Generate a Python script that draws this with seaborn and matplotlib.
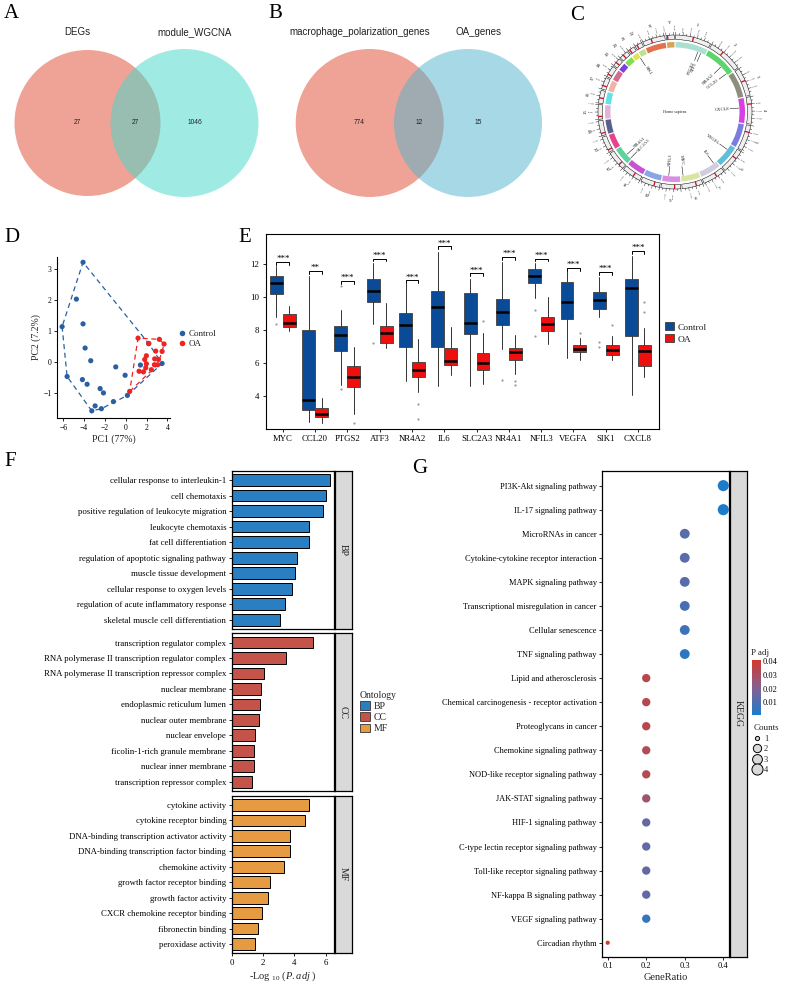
import numpy as np
import pandas as pd
import matplotlib
matplotlib.use("Agg")
import matplotlib.pyplot as plt
import seaborn as sns
from matplotlib.patches import Circle, Patch
from matplotlib.lines import Line2D
from matplotlib.colors import LinearSegmentedColormap, Normalize
from matplotlib.cm import ScalarMappable

# ---------------- data ----------------
# A / B venn
venn_a_sets = ["DEGs", "module_WGCNA"]
venn_a_counts = [27, 27, 1046]
venn_b_sets = ["macrophage_polarization_genes", "OA_genes"]
venn_b_counts = [774, 12, 15]

# C circos (hg38, Mb)
chrom_names = [str(i) for i in range(1, 23)] + ["X", "Y"]
chrom_len = [248, 242, 198, 190, 181, 171, 159, 145, 138, 134, 135, 133,
             114, 107, 102, 90, 83, 80, 59, 64, 47, 51, 156, 57]
chrom_cen = [123.4, 93.9, 90.9, 50.0, 48.8, 59.8, 60.1, 45.2, 43.0, 39.8, 53.4, 35.5,
             17.7, 17.2, 19.0, 36.8, 25.1, 18.5, 26.2, 28.1, 12.0, 15.0, 60.6, 10.4]
chrom_colors = ["#A9E0D2", "#5CD66C", "#8E8E7C", "#D740E0", "#7B7BE0", "#62BED6",
                "#D2CCE0", "#D8E5A3", "#DA8EE2", "#8AA4E8", "#C852D2", "#5DD49C",
                "#E8418E", "#58618C", "#E2B3DA", "#62E2E2", "#F2B3A3", "#D56B8C",
                "#7B40E0", "#80E052", "#E2E252", "#BBE293", "#E2724F", "#D6A455"]
circos_genes = ["PTGS2", "ATF3", "NR4A2", "CCL20", "CXCL8", "VEGFA",
                "IL6", "MYC", "NFIL3", "NR4A1", "SLC2A3", "SIK1"]
gene_chrom = ["1", "1", "2", "2", "4", "6", "7", "8", "9", "12", "12", "21"]
gene_pos = [186.6, 212.6, 156.3, 227.8, 73.7, 43.7, 22.7, 127.7, 91.4, 52.0, 7.9, 43.4]

# D PCA
ctrl_pc1 = [-4.1, -4.74, -6.11, -4.1, -3.9, -3.36, -5.63, -4.16, -3.71, -2.46, -2.14,
            -3.26, -2.94, -2.34, -1.18, -0.96, -0.06, 0.16, 1.41, 2.21, 3.49]
ctrl_pc2 = [3.22, 2.03, 1.14, 1.23, 0.45, 0.04, -0.47, -0.57, -0.72, -0.86, -1.0,
            -1.58, -1.42, -1.51, -1.28, -0.16, -0.43, -1.08, -0.1, 0.59, -0.05]
oa_pc1 = [1.18, 2.2, 3.23, 3.68, 2.88, 3.49, 1.98, 1.82, 2.78, 3.14, 1.98, 2.75,
          3.07, 1.92, 1.28, 1.7, 2.46, 0.38]
oa_pc2 = [0.77, 0.6, 0.73, 0.58, 0.35, 0.34, 0.2, 0.08, 0.1, 0.08, -0.06, -0.09,
          -0.09, -0.19, -0.3, -0.32, -0.25, -0.95]

# E boxplots
genes_e = ["MYC", "CCL20", "PTGS2", "ATF3", "NR4A2", "IL6", "SLC2A3", "NR4A1",
           "NFIL3", "VEGFA", "SIK1", "CXCL8"]
ctrl_whislo = [8.79, 2.40, 4.65, 8.36, 4.89, 4.63, 4.63, 6.89, 9.94, 6.30, 8.79, 4.08]
ctrl_q1 = [10.20, 3.15, 6.77, 9.72, 6.99, 6.97, 7.78, 8.34, 10.87, 8.67, 9.31, 7.66]
ctrl_med = [10.85, 3.74, 7.72, 10.40, 8.32, 9.43, 8.46, 9.13, 11.31, 9.74, 9.82, 10.59]
ctrl_q3 = [11.31, 8.02, 8.28, 11.11, 9.03, 10.40, 10.24, 9.92, 11.72, 10.93, 10.34, 11.09]
ctrl_whishi = [11.90, 11.29, 9.23, 12.06, 10.85, 12.77, 11.11, 12.12, 12.06, 11.60, 11.25, 12.51]
ctrl_fliers = [[8.36], [], [10.69, 4.42], [7.25], [], [], [], [4.99],
               [9.23, 7.66], [], [7.29, 7.01], []]
oa_whislo = [7.98, 2.36, 2.91, 6.91, 4.24, 5.29, 4.75, 5.33, 7.15, 6.20, 6.20, 5.19]
oa_q1 = [8.18, 2.71, 4.55, 7.25, 5.17, 5.90, 5.60, 6.18, 7.94, 6.65, 6.51, 5.84]
oa_med = [8.45, 2.93, 5.13, 7.86, 5.56, 6.14, 6.00, 6.67, 8.36, 6.85, 6.81, 6.71]
oa_q3 = [8.99, 3.27, 5.80, 8.28, 6.10, 6.91, 6.61, 6.91, 8.79, 7.11, 7.13, 7.09]
oa_whishi = [9.47, 3.88, 6.97, 9.64, 7.45, 8.18, 7.86, 7.70, 10.00, 7.55, 7.66, 8.12]
oa_fliers = [[], [], [2.36], [], [3.52, 2.61], [], [8.57], [4.89, 4.67],
             [], [7.86], [8.32], [9.74, 9.13]]
sig_labels = ["***", "**", "***", "***", "***", "***", "***", "***", "***", "***", "***", "***"]
sig_y = [12.16, 11.6, 10.99, 12.36, 11.05, 13.11, 11.45, 12.46, 12.36, 11.8, 11.56, 12.83]

# F GO enrichment
bp_terms = ["cellular response to interleukin-1", "cell chemotaxis",
            "positive regulation of leukocyte migration", "leukocyte chemotaxis",
            "fat cell differentiation", "regulation of apoptotic signaling pathway",
            "muscle tissue development", "cellular response to oxygen levels",
            "regulation of acute inflammatory response", "skeletal muscle cell differentiation"]
bp_vals = [6.25, 6.04, 5.83, 4.94, 4.94, 4.17, 4.03, 3.83, 3.39, 3.11]
cc_terms = ["transcription regulator complex",
            "RNA polymerase II transcription regulator complex",
            "RNA polymerase II transcription repressor complex", "nuclear membrane",
            "endoplasmic reticulum lumen", "nuclear outer membrane", "nuclear envelope",
            "ficolin-1-rich granule membrane", "nuclear inner membrane",
            "transcription repressor complex"]
cc_vals = [5.19, 3.45, 2.06, 1.84, 1.80, 1.74, 1.46, 1.42, 1.42, 1.31]
mf_terms = ["cytokine activity", "cytokine receptor binding",
            "DNA-binding transcription activator activity",
            "DNA-binding transcription factor binding", "chemokine activity",
            "growth factor receptor binding", "growth factor activity",
            "CXCR chemokine receptor binding", "fibronectin binding", "peroxidase activity"]
mf_vals = [4.92, 4.66, 3.73, 3.73, 3.33, 2.44, 2.29, 1.93, 1.67, 1.46]

# G KEGG
kegg_terms = ["PI3K-Akt signaling pathway", "IL-17 signaling pathway", "MicroRNAs in cancer",
              "Cytokine-cytokine receptor interaction", "MAPK signaling pathway",
              "Transcriptional misregulation in cancer", "Cellular senescence",
              "TNF signaling pathway", "Lipid and atherosclerosis",
              "Chemical carcinogenesis - receptor activation", "Proteoglycans in cancer",
              "Chemokine signaling pathway", "NOD-like receptor signaling pathway",
              "JAK-STAT signaling pathway", "HIF-1 signaling pathway",
              "C-type lectin receptor signaling pathway", "Toll-like receptor signaling pathway",
              "NF-kappa B signaling pathway", "VEGF signaling pathway", "Circadian rhythm"]
kegg_ratio = [0.4, 0.4, 0.3, 0.3, 0.3, 0.3, 0.3, 0.3, 0.2, 0.2, 0.2, 0.2, 0.2, 0.2,
              0.2, 0.2, 0.2, 0.2, 0.2, 0.1]
kegg_count = [4, 4, 3, 3, 3, 3, 3, 3, 2, 2, 2, 2, 2, 2, 2, 2, 2, 2, 2, 1]
kegg_padj = [0.0006, 0.0006, 0.012, 0.012, 0.012, 0.009, 0.007, 0.004, 0.034, 0.034,
             0.034, 0.032, 0.032, 0.027, 0.014, 0.014, 0.014, 0.014, 0.006, 0.041]

# ---------------- style ----------------
sns.set_theme(style="ticks")
plt.rcParams["font.family"] = ["Liberation Serif", "DejaVu Serif"]
plt.rcParams["mathtext.fontset"] = "custom"
plt.rcParams["mathtext.rm"] = "Liberation Serif"
plt.rcParams["mathtext.it"] = "Liberation Serif:italic"
plt.rcParams["axes.edgecolor"] = "black"
plt.rcParams["axes.linewidth"] = 0.8
plt.rcParams["xtick.color"] = "black"
plt.rcParams["ytick.color"] = "black"
plt.rcParams["text.color"] = "#222222"

W, H = 788, 991
fig = plt.figure(figsize=(7.88, 9.91), dpi=100)


def add_ax(l, t, r, b, **kw):
    return fig.add_axes([l / W, 1 - b / H, (r - l) / W, (b - t) / H], **kw)


def panel_label(x, y, s):
    fig.text(x / W, 1 - y / H, s, fontsize=15, va="top", ha="left", color="black")


# ---------------- A & B venn ----------------
ax_v = add_ax(0, 0, 560, 230)
ax_v.set_xlim(0, 560)
ax_v.set_ylim(230, 0)
ax_v.axis("off")
sans = "Liberation Sans"
venns = [
    (venn_a_sets, venn_a_counts, [87.5, 184.5], [73, 74], ["#E1492F", "#41D9CB"]),
    (venn_b_sets, venn_b_counts, [369.7, 468.0], [74, 74], ["#E1492F", "#51B3CD"]),
]
for sets, counts, cxs, rs, cols in venns:
    for cx, r, col in zip(cxs, rs, cols):
        ax_v.add_patch(Circle((cx, 123), r, facecolor=col, alpha=0.5, edgecolor="none"))
    x_left = cxs[0] - 10
    x_right = cxs[1] + 10
    x_mid = (cxs[0] + rs[0] + cxs[1] - rs[1]) / 2
    for xx, s in zip([x_left, x_right], sets):
        ax_v.text(xx, 32, s, ha="center", va="center", fontsize=7, family=sans, color="#222222")
    for xx, c in zip([x_left, x_mid, x_right], counts):
        ax_v.text(xx, 123, str(c), ha="center", va="center", fontsize=4.8, family=sans, color="#222222")
panel_label(4, 4, "A")
panel_label(268, 4, "B")

# ---------------- C circos ----------------
cx0, cy0, R = 675, 112, 95
ax_c = add_ax(cx0 - R, cy0 - R, cx0 + R, cy0 + R, projection="polar")
ax_c.set_theta_zero_location("N")
ax_c.set_theta_direction(-1)
ax_c.set_ylim(0, R)
ax_c.axis("off")
gap = 1.0
deg_per_mb = (360 - gap * len(chrom_len)) / sum(chrom_len)
starts = []
t = gap / 2
for L in chrom_len:
    starts.append(t)
    t += L * deg_per_mb + gap


def cdeg(ci, mb):
    return starts[ci] + mb * deg_per_mb


def radial_rot(theta_deg, outward=True):
    th = theta_deg % 360
    if th <= 180:
        return 90 - th, ("left" if outward else "right")
    return 270 - th, ("right" if outward else "left")


for i, L in enumerate(chrom_len):
    a0, a1 = np.deg2rad(cdeg(i, 0)), np.deg2rad(cdeg(i, L))
    ax_c.bar((a0 + a1) / 2, 5.5, width=a1 - a0, bottom=64.5, color=chrom_colors[i],
             edgecolor="none")
    ax_c.bar((a0 + a1) / 2, 4.5, width=a1 - a0, bottom=72.5, color="#EFEFEF",
             edgecolor="black", linewidth=0.35)
    ax_c.bar(np.deg2rad(cdeg(i, chrom_cen[i])), 4.5, width=np.deg2rad(1.0), bottom=72.5,
             color="#C8102E", edgecolor="none")
    for mb in range(0, L + 1, 25):
        a = np.deg2rad(cdeg(i, mb))
        r1 = 80 if mb % 50 == 0 else 78.8
        ax_c.plot([a, a], [77, r1], color="black", lw=0.3)
        if mb % 50 == 0 and mb > 0:
            rot, ha = radial_rot(cdeg(i, mb), outward=True)
            ax_c.text(a, 80.8, f"{mb}Mb", fontsize=1.7, rotation=rot, ha=ha, va="center",
                      rotation_mode="anchor", color="#333333")
    mid = cdeg(i, L / 2)
    rot = -mid
    if 90 < mid % 360 < 270:
        rot += 180
    ax_c.text(np.deg2rad(mid), 89, chrom_names[i], fontsize=3.6, rotation=rot,
              ha="center", va="center", color="#222222")

for g, ch, pos in zip(circos_genes, gene_chrom, gene_pos):
    ci = chrom_names.index(ch)
    d = cdeg(ci, pos)
    a = np.deg2rad(d)
    ax_c.plot([a, a], [64, 55], color="black", lw=0.35)
    rot, ha = radial_rot(d, outward=False)
    ax_c.text(a, 54, g, fontsize=3.3, rotation=rot, ha=ha, va="center",
              rotation_mode="anchor", color="#222222")
ax_c.text(0, 0, "Homo sapiens", fontsize=3, ha="center", va="center", color="#222222")
panel_label(570, 6, "C")

# ---------------- D PCA ----------------
pca_df = pd.DataFrame({
    "PC1": ctrl_pc1 + oa_pc1,
    "PC2": ctrl_pc2 + oa_pc2,
    "Group": ["Control"] * len(ctrl_pc1) + ["OA"] * len(oa_pc1),
})
group_pal = {"Control": "#2A5FA3", "OA": "#EE2424"}
ax_d = add_ax(57, 256.7, 170, 418.3)
sns.scatterplot(data=pca_df, x="PC1", y="PC2", hue="Group", palette=group_pal, s=14,
                linewidth=0, legend=False, ax=ax_d, zorder=3)


def convex_hull(pts):
    pts = sorted(set(pts))
    def cross(o, a, b):
        return (a[0] - o[0]) * (b[1] - o[1]) - (a[1] - o[1]) * (b[0] - o[0])
    lower, upper = [], []
    for p in pts:
        while len(lower) >= 2 and cross(lower[-2], lower[-1], p) <= 0:
            lower.pop()
        lower.append(p)
    for p in reversed(pts):
        while len(upper) >= 2 and cross(upper[-2], upper[-1], p) <= 0:
            upper.pop()
        upper.append(p)
    return lower[:-1] + upper[:-1]


for grp, sub in pca_df.groupby("Group"):
    hull = convex_hull(list(zip(sub["PC1"], sub["PC2"])))
    hull.append(hull[0])
    hx, hy = zip(*hull)
    ax_d.plot(hx, hy, ls=(0, (4, 3)), lw=0.9, color=group_pal[grp], zorder=2)
ax_d.set_xlim(-6.6, 4.25)
ax_d.set_ylim(-1.82, 3.4)
ax_d.set_xticks([-6, -4, -2, 0, 2, 4])
ax_d.set_yticks([-1, 0, 1, 2, 3])
ax_d.tick_params(labelsize=5.5, length=2.5, width=0.6, pad=1.5)
ax_d.set_xlabel("PC1 (77%)", fontsize=7, labelpad=2)
ax_d.set_ylabel("PC2 (7.2%)", fontsize=7, labelpad=2)
sns.despine(ax=ax_d)
d_handles = [Line2D([], [], marker="o", ls="", markersize=4, markerfacecolor=c,
                    markeredgecolor="none") for c in group_pal.values()]
fig.legend(d_handles, list(group_pal.keys()), loc="center left",
           bbox_to_anchor=(172 / W, 1 - 339 / H), frameon=False, fontsize=6.5,
           handletextpad=0.1, labelspacing=0.25, borderpad=0, handlelength=1.2)
panel_label(4, 228, "D")

# ---------------- E boxplots ----------------
ctrl_color, oa_color = "#0B4A96", "#F00F0F"
ax_e = add_ax(265.7, 234, 659, 429)
xpos = np.arange(len(genes_e))
stats_ctrl = [dict(med=m, q1=a, q3=b, whislo=lo, whishi=hi, fliers=f)
              for m, a, b, lo, hi, f in zip(ctrl_med, ctrl_q1, ctrl_q3, ctrl_whislo,
                                              ctrl_whishi, ctrl_fliers)]
stats_oa = [dict(med=m, q1=a, q3=b, whislo=lo, whishi=hi, fliers=f)
            for m, a, b, lo, hi, f in zip(oa_med, oa_q1, oa_q3, oa_whislo, oa_whishi, oa_fliers)]
for stats, off, col in [(stats_ctrl, -0.2, ctrl_color), (stats_oa, 0.2, oa_color)]:
    ax_e.bxp(stats, positions=xpos + off, widths=0.4, patch_artist=True, showcaps=False,
             boxprops=dict(facecolor=col, edgecolor="#4D4D4D", linewidth=0.7),
             medianprops=dict(color="black", linewidth=1.8),
             whiskerprops=dict(color="#333333", linewidth=0.7),
             flierprops=dict(marker="o", markersize=1.6, markerfacecolor="#9A9A9A",
                             markeredgecolor="none"),
             manage_ticks=False)
for x, s, y in zip(xpos, sig_labels, sig_y):
    ax_e.plot([x - 0.2, x - 0.2, x + 0.2, x + 0.2], [y - 0.18, y, y, y - 0.18],
              color="black", lw=0.7)
    ax_e.text(x, y - 0.08, s, ha="center", va="bottom", fontsize=6.5, color="black")
ax_e.set_xticks(xpos)
ax_e.set_xticklabels(genes_e)
ax_e.set_yticks([4, 6, 8, 10, 12])
ax_e.set_xlim(-0.53, 11.65)
ax_e.set_ylim(2.0, 13.85)
ax_e.tick_params(labelsize=6.3, length=2.5, width=0.6, pad=2)
e_handles = [Patch(facecolor=c, edgecolor="#4D4D4D", linewidth=0.7)
             for c in [ctrl_color, oa_color]]
fig.legend(e_handles, ["Control", "OA"], loc="center left",
           bbox_to_anchor=(660 / W, 1 - 333 / H), frameon=False, fontsize=6.8,
           handlelength=1.0, handleheight=0.9, handletextpad=0.4, labelspacing=0.3,
           borderpad=0)
panel_label(238, 228, "E")

# ---------------- F GO barplot ----------------
onto_pal = {"BP": "#2A7FC3", "CC": "#C4544A", "MF": "#E69A42"}
facets = [("BP", bp_terms, bp_vals, 470.7, 629),
          ("CC", cc_terms, cc_vals, 633.3, 791),
          ("MF", mf_terms, mf_vals, 795.7, 953.3)]
for k, (onto, terms, vals, top, bot) in enumerate(facets):
    ax = add_ax(231.7, top, 334.3, bot)
    sub = pd.DataFrame({"term": terms, "value": vals})
    sns.barplot(data=sub, x="value", y="term", color=onto_pal[onto], saturation=1,
                edgecolor="black", linewidth=0.7, width=0.76, ax=ax)
    ax.set_xlim(0, 6.55)
    ax.set_ylim(9.6, -0.6)
    ax.set_ylabel("")
    ax.tick_params(axis="y", labelsize=6.3, length=2.5, width=0.6, pad=1.5)
    ax.tick_params(axis="x", labelsize=6.3, length=2.5, width=0.6, pad=1.5)
    for sp in ax.spines.values():
        sp.set_linewidth(0.9)
    if k < 2:
        ax.set_xticks([])
        ax.set_xlabel("")
    else:
        ax.set_xticks([0, 2, 4, 6])
        ax.set_xlabel(r"-Log $_{10}$ ($\mathit{P.adj}$ )", fontsize=7.5, labelpad=2)
    sax = add_ax(335, top, 351.7, bot)
    sax.set_facecolor("#D9D9D9")
    sax.set_xticks([])
    sax.set_yticks([])
    for sp in sax.spines.values():
        sp.set_linewidth(0.9)
    sax.text(0.5, 0.5, onto, rotation=-90, ha="center", va="center", fontsize=7,
             transform=sax.transAxes, color="#222222")
f_handles = [Patch(facecolor=c, edgecolor="#333333", linewidth=0.6) for c in onto_pal.values()]
fig.legend(f_handles, list(onto_pal.keys()), title="Ontology", loc="upper left",
           bbox_to_anchor=(355 / W, 1 - 686 / H), frameon=False, fontsize=7,
           title_fontsize=7, handlelength=1.0, handleheight=1.0, handletextpad=0.4,
           labelspacing=0.15, borderpad=0, alignment="left")
panel_label(4, 452, "F")

# ---------------- G KEGG dotplot ----------------
kegg_df = pd.DataFrame({"Description": kegg_terms, "GeneRatio": kegg_ratio,
                        "Count": kegg_count, "padj": kegg_padj})
padj_cmap = LinearSegmentedColormap.from_list("padj", ["#1B7CCB", "#85608F", "#D23A2C"])
padj_norm = Normalize(vmin=0.0005, vmax=0.041)
count_sizes = {1: 9, 2: 36, 3: 50, 4: 64}
ax_g = add_ax(602.3, 470.7, 729.3, 956.7)
sns.scatterplot(data=kegg_df, x="GeneRatio", y="Description", hue="padj", size="Count",
                palette=padj_cmap, hue_norm=padj_norm, sizes=count_sizes, linewidth=0,
                legend=False, ax=ax_g)
ax_g.set_xlim(0.086, 0.4156)
ax_g.set_ylim(len(kegg_terms) - 0.42, -0.62)
ax_g.set_xticks([0.1, 0.2, 0.3, 0.4])
ax_g.set_ylabel("")
ax_g.set_xlabel("GeneRatio", fontsize=7.5, labelpad=2)
ax_g.tick_params(labelsize=6, length=2.5, width=0.6, pad=1.5)
for sp in ax_g.spines.values():
    sp.set_linewidth(0.9)
gsax = add_ax(730, 470.7, 746.7, 956.7)
gsax.set_facecolor("#D9D9D9")
gsax.set_xticks([])
gsax.set_yticks([])
for sp in gsax.spines.values():
    sp.set_linewidth(0.9)
gsax.text(0.5, 0.5, "KEGG", rotation=-90, ha="center", va="center", fontsize=7,
          transform=gsax.transAxes, color="#222222")

cax = add_ax(752, 660, 761, 715)
cb = fig.colorbar(ScalarMappable(norm=padj_norm, cmap=padj_cmap), cax=cax)
cb.set_ticks([0.01, 0.02, 0.03, 0.04])
cb.outline.set_visible(False)
cax.tick_params(labelsize=6, length=2, width=0.6, color="white", direction="in", pad=1.5)
fig.text(751 / W, 1 - 653 / H, "P adj", fontsize=6.5, va="center", ha="left")

size_handles = [Line2D([], [], marker="o", ls="", markersize=np.sqrt(count_sizes[c]),
                       markerfacecolor="#D9D9D9", markeredgecolor="black",
                       markeredgewidth=0.7) for c in count_sizes]
fig.legend(size_handles, [str(c) for c in count_sizes], title="Counts", loc="upper left",
           bbox_to_anchor=(749 / W, 1 - 720 / H), frameon=False, fontsize=6,
           title_fontsize=6.5, handlelength=1.0, handletextpad=0.3, labelspacing=0.3,
           borderpad=0, alignment="left")
panel_label(412, 459, "G")

fig.savefig("out.png", dpi=100)
